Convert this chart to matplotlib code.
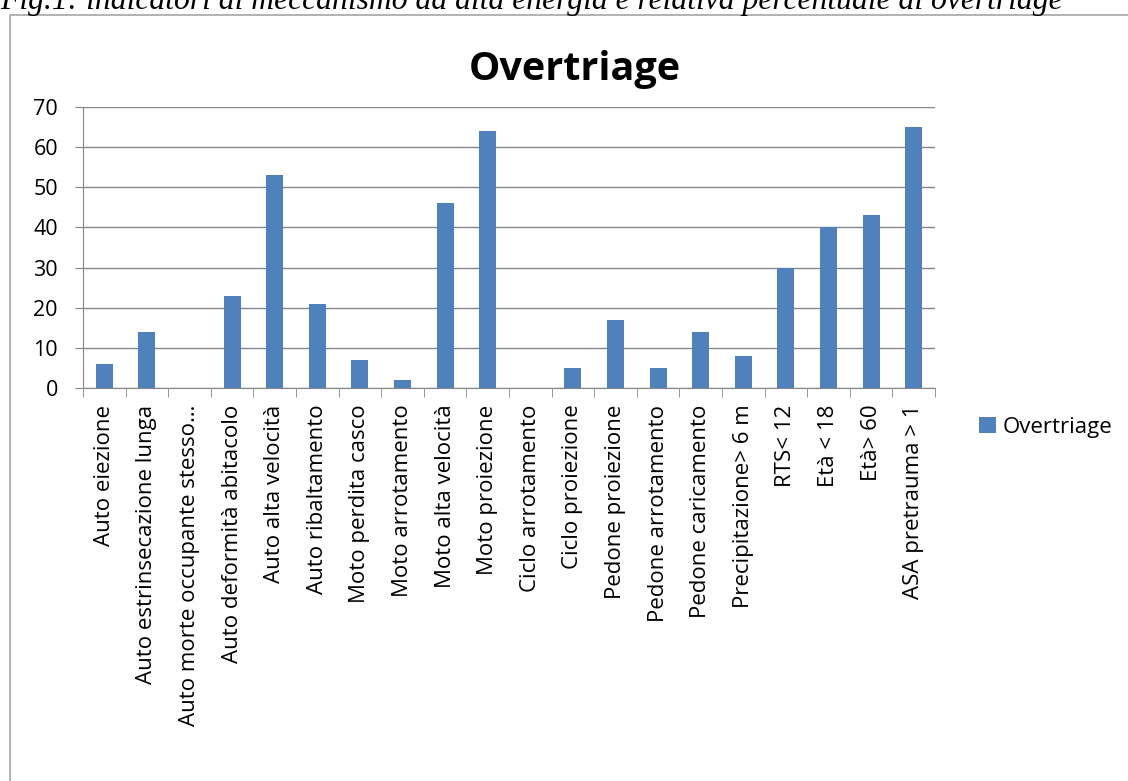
import matplotlib
matplotlib.use("Agg")
import matplotlib.pyplot as plt
from matplotlib.patches import Rectangle
import numpy as np

categories = ["Auto eiezione", "Auto estrinsecazione lunga", "Auto morte occupante stesso…",
              "Auto deformità abitacolo", "Auto alta velocità", "Auto ribaltamento",
              "Moto perdita casco", "Moto arrotamento", "Moto alta velocità", "Moto proiezione",
              "Ciclo arrotamento", "Ciclo proiezione", "Pedone proiezione", "Pedone arrotamento",
              "Pedone caricamento", "Precipitazione> 6 m", "RTS< 12", "Età < 18", "Età> 60",
              "ASA pretrauma > 1"]
overtriage = [6, 14, 0, 23, 53, 21, 7, 2, 46, 64, 0, 5, 17, 5, 14, 8, 30, 40, 43, 65]
yticks = [0, 10, 20, 30, 40, 50, 60, 70]

plt.rcParams['font.family'] = ['Open Sans', 'DejaVu Sans']
bar_color = "#4F81BD"
grid_color = "#878787"

fig = plt.figure(figsize=(11.28, 7.81), dpi=100)

# caption above the chart, cut at the top like the source
fig.text(0.0, 1.0 - 9 / 781, "Fig.1: indicatori di meccanismo ad alta energia e relativa percentuale di overtriage",
         family="Liberation Serif", style="italic", fontsize=22.8, ha="left", va="baseline")

# chart frame
fig.patches.append(Rectangle((10 / 1128, -0.05), 1.1, 1 - 15 / 781 + 0.05, transform=fig.transFigure,
                             fill=False, edgecolor="#A6A6A6", linewidth=1.2, clip_on=False))

ax = fig.add_axes([83 / 1128, 1 - 388 / 781, (935 - 83) / 1128, (388 - 107) / 781])
x = np.arange(len(categories))
ax.bar(x, overtriage, width=0.4, color=bar_color, label="Overtriage", zorder=3)

ax.set_xlim(-0.5, len(categories) - 0.5)
ax.set_ylim(0, 70)
ax.set_yticks(yticks)
ax.yaxis.grid(True, color=grid_color, linewidth=1, zorder=0)
for side in ["top", "right"]:
    ax.spines[side].set_visible(False)
ax.spines["left"].set_color(grid_color)
ax.spines["bottom"].set_color(grid_color)

ax.set_xticks(x)
ax.set_xticklabels(categories, rotation=90, fontsize=16)
ax.tick_params(axis="x", length=0, pad=12)
ax.set_xticks(np.arange(len(categories) + 1) - 0.5, minor=True)
ax.tick_params(axis="x", which="minor", length=6.5, color=grid_color, direction="out")
ax.tick_params(axis="y", length=6, color=grid_color, labelsize=15.5, pad=12)

fig.text(575 / 1128, 1 - 80 / 781, "Overtriage", fontsize=28.5, fontweight="bold",
         ha="center", va="baseline")

ax.legend(loc="center left", bbox_to_anchor=(1.028, -0.14), frameon=False, fontsize=16,
          handlelength=0.75, handleheight=0.75, handletextpad=0.3)

plt.savefig("out.png", dpi=100)
